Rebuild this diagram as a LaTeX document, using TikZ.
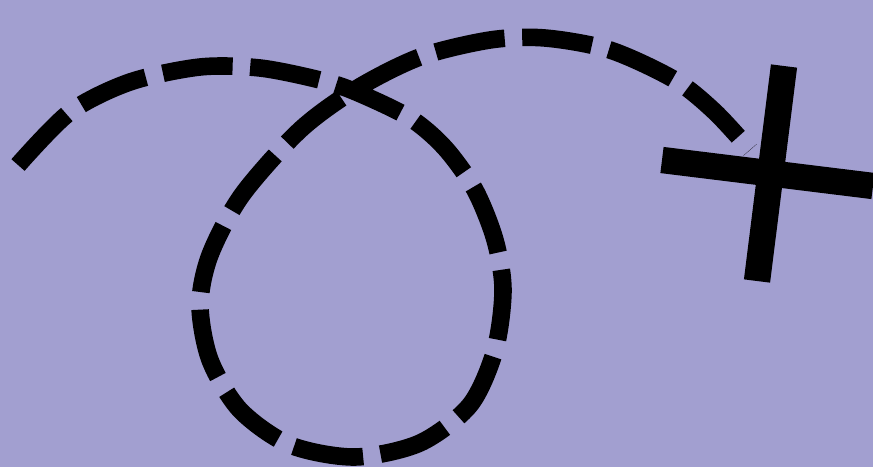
\documentclass[tikz,border=0pt]{standalone}
\usepackage{tikz}
\definecolor{mapbg}{RGB}{162,159,208}
\tikzset{
  trail/.style={line width=10pt, dash pattern=on 40pt off 10pt},
  crossbar/.style={line width=15pt}
}
\begin{document}
\begin{tikzpicture}[x=0.02cm, y=-0.02cm]

% Background
\fill[mapbg] (0,0) rectangle (873,467);
\useasboundingbox (0,0) rectangle (873,467);

% Dashed trail with loop
\draw[trail] plot[smooth, tension=0.5] coordinates {
  (18,165) (70,112) (130,82) (200,67) (260,68) (320,80) (356,92)
  (410,118) (445,148) (475,190) (495,240) (503,290) (495,350)
  (470,405) (420,443) (355,457) (290,445) (240,410) (210,360)
  (200,305) (210,255) (242,195) (300,130) (356,89)
  (420,57) (490,40) (545,38) (610,50) (675,80) (715,112) (750,150)};

% X mark
\draw[crossbar] (662,160) -- (873,186);
\draw[crossbar] (784,66) -- (757,281);

\end{tikzpicture}
\end{document}
